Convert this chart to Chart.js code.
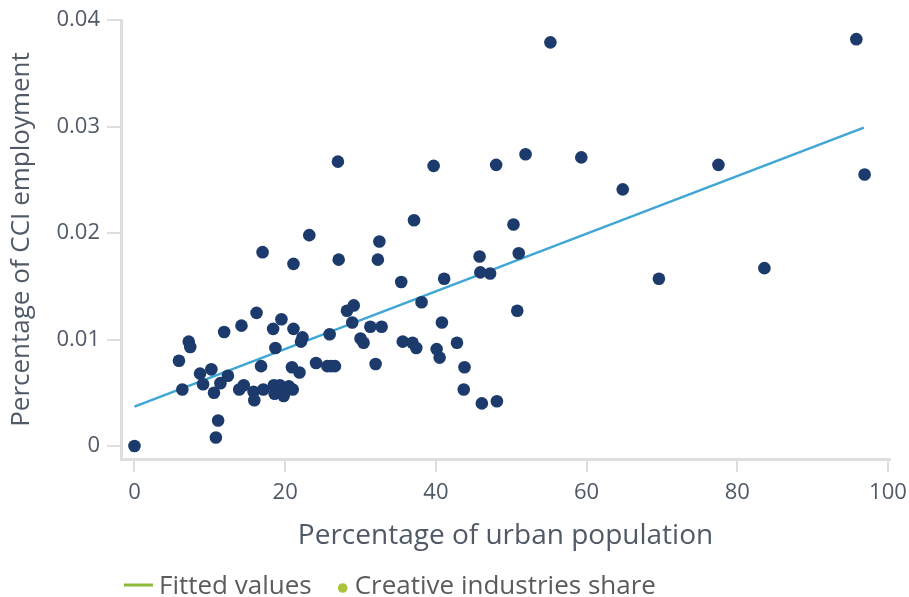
<!DOCTYPE html>
<html>
<head>
<meta charset="utf-8">
<script src="https://cdn.jsdelivr.net/npm/chart.js@4.4.1/dist/chart.umd.min.js"></script>
<style>
    html, body { margin: 0; padding: 0; background: #fff; }
    #wrap { width: 909px; height: 597px; }
</style>
</head>
<body>
<div id="wrap"><canvas id="scatterChart" width="909" height="597"></canvas></div>
<script>
// percentage of urban population (x) / share of CCI employment (y)
const urbanShare = [
    0, 5.9, 6.35, 7.2, 7.4, 8.7, 9.1, 10.2, 10.55, 11.4,
    12.4, 11.1, 10.8, 11.9, 14.2, 13.9, 14.5, 15.8, 15.9, 16.2,
    16.8, 17.0, 17.1, 18.4, 18.7, 18.5, 18.6, 19.3, 19.8, 19.5,
    20.5, 21.0, 21.1, 21.1, 20.9, 21.9, 22.3, 22.1, 23.2, 24.1,
    27.0, 39.7, 48.0, 51.9, 32.5, 37.1, 50.3, 27.1, 32.3, 45.8,
    51.0, 35.4, 41.1, 45.9, 47.2, 38.1, 50.8, 29.1, 28.2, 28.9,
    31.3, 32.8, 40.8, 25.9, 30.0, 30.4, 35.6, 36.9, 37.4, 40.1,
    40.5, 42.8, 43.8, 32.0, 25.6, 26.1, 26.6, 43.7, 46.1, 48.1,
    55.2, 59.3, 64.8, 69.6, 77.5, 83.6, 95.8, 96.9
];
const cciShare = [
    0, 0.0080, 0.0053, 0.0098, 0.0093, 0.0068, 0.0058, 0.0072, 0.0050, 0.0059,
    0.0066, 0.0024, 0.0008, 0.0107, 0.0113, 0.0053, 0.0057, 0.0051, 0.0043, 0.0125,
    0.0075, 0.0182, 0.0053, 0.0110, 0.0092, 0.0057, 0.0049, 0.0057, 0.0047, 0.0119,
    0.0056, 0.0053, 0.0171, 0.0110, 0.0074, 0.0069, 0.0102, 0.0098, 0.0198, 0.0078,
    0.0267, 0.0263, 0.0264, 0.0274, 0.0192, 0.0212, 0.0208, 0.0175, 0.0175, 0.0178,
    0.0181, 0.0154, 0.0157, 0.0163, 0.0162, 0.0135, 0.0127, 0.0132, 0.0127, 0.0116,
    0.0112, 0.0112, 0.0116, 0.0105, 0.0101, 0.0097, 0.0098, 0.0097, 0.0092, 0.0091,
    0.0083, 0.0097, 0.0074, 0.0077, 0.0075, 0.0075, 0.0075, 0.0053, 0.0040, 0.0042,
    0.0379, 0.0271, 0.0241, 0.0157, 0.0264, 0.0167, 0.0382, 0.0255
];
// fitted regression line, end points
const fitX = [0, 96.8];
const fitY = [0.0037, 0.0299];

const xTicks = [0, 20, 40, 60, 80, 100];
const yTicks = [0, 0.01, 0.02, 0.03, 0.04];

const legendItems = ['Fitted values', 'Creative industries share'];

const textColor = '#4f5a66';
const axisGrey = '#dedede';
const fontFamily = '"Open Sans", sans-serif';

// legend drawn under the chart (line + dot markers)
const bottomLegend = {
    id: 'bottomLegend',
    afterDraw(chart) {
        const ctx = chart.ctx;
        const y = 587;
        let x = 124;
        ctx.save();
        ctx.font = '26px ' + fontFamily;
        ctx.fillStyle = '#5b5b5b';
        ctx.textBaseline = 'middle';
        // line marker
        ctx.strokeStyle = '#8cbb3c';
        ctx.lineWidth = 3;
        ctx.beginPath();
        ctx.moveTo(x, y - 2);
        ctx.lineTo(x + 29, y - 2);
        ctx.stroke();
        x += 35;
        ctx.fillText(legendItems[0], x, y);
        x += ctx.measureText(legendItems[0]).width + 26;
        // dot marker
        ctx.fillStyle = '#a9c43c';
        ctx.beginPath();
        ctx.arc(x + 5, y + 1, 4.8, 0, Math.PI * 2);
        ctx.fill();
        x += 17;
        ctx.fillStyle = '#5b5b5b';
        ctx.fillText(legendItems[1], x, y);
        ctx.restore();
    }
};

document.addEventListener('DOMContentLoaded', () => {
    const ctx = document.getElementById('scatterChart').getContext('2d');
    new Chart(ctx, {
        type: 'scatter',
        data: {
            datasets: [
                {
                    label: legendItems[0],
                    data: fitX.map((x, i) => ({ x: x, y: fitY[i] })),
                    showLine: true,
                    borderColor: '#3fa6d5',
                    borderWidth: 2.5,
                    pointRadius: 0,
                    order: 2
                },
                {
                    label: legendItems[1],
                    data: urbanShare.map((x, i) => ({ x: x, y: cciShare[i] })),
                    backgroundColor: '#1c3b6c',
                    borderColor: '#1c3b6c',
                    borderWidth: 0,
                    pointRadius: 6.3,
                    order: 1
                }
            ]
        },
        options: {
            responsive: false,
            animation: false,
            layout: { padding: { top: 20, right: 19, bottom: 40, left: 0 } },
            plugins: {
                legend: { display: false },
                tooltip: { enabled: false }
            },
            scales: {
                x: {
                    type: 'linear',
                    min: -1.79,
                    max: 100.27,
                    afterBuildTicks: (scale) => { scale.ticks = xTicks.map(v => ({ value: v })); },
                    afterFit: (scale) => {
                        scale.height = 98;
                        scale.paddingLeft = 0;
                        scale.paddingRight = 0;
                    },
                    grid: { drawOnChartArea: false, drawTicks: true, tickLength: 13, color: axisGrey, lineWidth: 2 },
                    border: { color: axisGrey, width: 3 },
                    ticks: { color: textColor, font: { family: fontFamily, size: 22 }, padding: 8 },
                    title: {
                        display: true,
                        text: 'Percentage of urban population',
                        color: textColor,
                        font: { family: fontFamily, size: 28 },
                        padding: { top: 0, bottom: 4 }
                    }
                },
                y: {
                    type: 'linear',
                    min: -0.00122,
                    max: 0.04,
                    afterBuildTicks: (scale) => { scale.ticks = yTicks.map(v => ({ value: v })); },
                    afterFit: (scale) => {
                        scale.width = 121;
                        scale.paddingTop = 0;
                        scale.paddingBottom = 0;
                    },
                    grid: { drawOnChartArea: false, drawTicks: true, tickLength: 14, color: axisGrey, lineWidth: 2 },
                    border: { color: axisGrey, width: 3 },
                    ticks: {
                        color: textColor,
                        font: { family: fontFamily, size: 22 },
                        padding: 7,
                        callback: (v) => v === 0 ? '0' : v.toFixed(2)
                    },
                    title: {
                        display: true,
                        text: 'Percentage of CCI employment',
                        color: textColor,
                        font: { family: fontFamily, size: 26 },
                        padding: { top: 6, bottom: 0 }
                    }
                }
            }
        },
        plugins: [bottomLegend]
    });
});
</script>
</body>
</html>
